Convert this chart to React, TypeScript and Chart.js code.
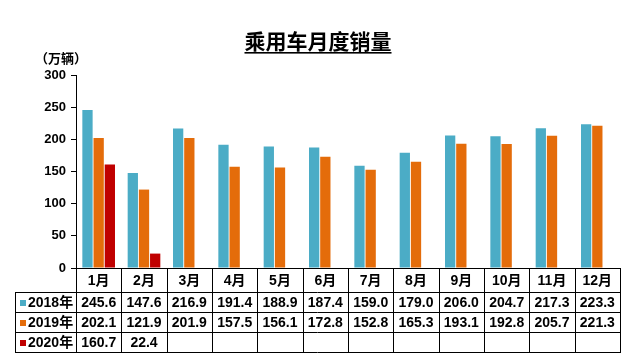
import React, { useEffect, useRef } from 'react';
import { Chart, registerables } from 'chart.js';

Chart.register(...registerables);

const chartTitle = '乘用车月度销量';
const unitLabel = '（万辆）';
const months = ['1月', '2月', '3月', '4月', '5月', '6月', '7月', '8月', '9月', '10月', '11月', '12月'];
const seriesNames = ['2018年', '2019年', '2020年'];
const sales2018 = [245.6, 147.6, 216.9, 191.4, 188.9, 187.4, 159.0, 179.0, 206.0, 204.7, 217.3, 223.3];
const sales2019 = [202.1, 121.9, 201.9, 157.5, 156.1, 172.8, 152.8, 165.3, 193.1, 192.8, 205.7, 221.3];
const sales2020: (number | null)[] = [160.7, 22.4, null, null, null, null, null, null, null, null, null, null];
const yMin = 0;
const yMax = 300;
const yStep = 50;
const seriesColors = ['#4BACC6', '#E46C0A', '#C00000'];

const FONT = '"Liberation Sans", Arial, "Noto Sans CJK SC", sans-serif';
const CJK = '"Noto Sans CJK SC", "Liberation Sans", sans-serif';

const decorPlugin = {
  id: 'decor',
  afterDraw(chart: any) {
    const ctx = chart.ctx as CanvasRenderingContext2D;
    const area = chart.chartArea;
    const xs = chart.scales.x;
    const n = months.length;
    const colW = (area.right - area.left) / n;
    const top = Math.round(area.bottom);
    const rows = [top, top + 24, top + 44, top + 64, top + 84];
    const legendLeft = 15;
    const right = Math.round(area.right);
    const left = Math.round(area.left);
    ctx.save();

    // title
    ctx.fillStyle = '#000';
    ctx.font = `bold 21px ${CJK}`;
    ctx.textAlign = 'center';
    ctx.textBaseline = 'middle';
    const tx = 318;
    ctx.fillText(chartTitle, tx, 41);
    const tw = ctx.measureText(chartTitle).width;
    ctx.fillRect(tx - tw / 2, 52, tw, 1.6);

    // unit label
    ctx.font = `bold 13px ${CJK}`;
    ctx.textAlign = 'left';
    ctx.fillText(unitLabel, 35, 58);

    // table lines
    ctx.strokeStyle = '#000';
    ctx.lineWidth = 1;
    ctx.beginPath();
    ctx.moveTo(left, rows[0] + 0.5);
    ctx.lineTo(right, rows[0] + 0.5);
    for (let r = 1; r < rows.length; r++) {
      ctx.moveTo(legendLeft, rows[r] + 0.5);
      ctx.lineTo(right, rows[r] + 0.5);
    }
    ctx.moveTo(legendLeft + 0.5, rows[1]);
    ctx.lineTo(legendLeft + 0.5, rows[4] + 1);
    for (let i = 0; i <= n; i++) {
      const px = Math.round(left + i * colW) + 0.5;
      ctx.moveTo(px, rows[0]);
      ctx.lineTo(px, rows[4] + 1);
    }
    ctx.stroke();

    // header labels
    ctx.textAlign = 'center';
    ctx.textBaseline = 'middle';
    ctx.font = `bold 14px ${FONT}`;
    for (let i = 0; i < n; i++) {
      const cx = xs.getPixelForValue(i);
      ctx.fillText(months[i], cx, (rows[0] + rows[1]) / 2 + 1);
    }
    const all = [sales2018, sales2019, sales2020];
    for (let s = 0; s < all.length; s++) {
      const cy = (rows[s + 1] + rows[s + 2]) / 2 + 1;
      ctx.fillStyle = seriesColors[s];
      ctx.fillRect(20, cy - 3, 6, 6);
      ctx.fillStyle = '#000';
      ctx.textAlign = 'left';
      ctx.font = `bold 14px ${FONT}`;
      ctx.fillText(seriesNames[s], 28, cy);
      ctx.textAlign = 'center';
      for (let i = 0; i < n; i++) {
        const v = all[s][i];
        if (v === null || v === undefined) continue;
        ctx.fillText(v.toFixed(1), xs.getPixelForValue(i), cy);
      }
    }
    ctx.restore();
  },
};

export default function App() {
  const ref = useRef<HTMLCanvasElement>(null);
  useEffect(() => {
    if (!ref.current) return;
    const chart = new Chart(ref.current, {
      type: 'bar',
      data: {
        labels: months,
        datasets: [
          { label: seriesNames[0], data: sales2018, backgroundColor: seriesColors[0] },
          { label: seriesNames[1], data: sales2019, backgroundColor: seriesColors[1] },
          { label: seriesNames[2], data: sales2020, backgroundColor: seriesColors[2] },
        ],
      },
      options: {
        responsive: false,
        animation: false,
        devicePixelRatio: 1,
        layout: { padding: { left: 0, right: 12, top: 75, bottom: 0 } },
        datasets: { bar: { categoryPercentage: 0.74, barPercentage: 0.92 } },
        plugins: {
          legend: { display: false },
          tooltip: { enabled: false },
          title: { display: false },
        },
        scales: {
          x: {
            ticks: { display: false },
            grid: { display: false },
            border: { display: false },
            afterFit: (scale: any) => {
              scale.height = 94;
            },
          },
          y: {
            min: yMin,
            max: yMax,
            ticks: {
              stepSize: yStep,
              color: '#000',
              padding: 5,
              font: { family: FONT, size: 13, weight: 'bold' },
            },
            grid: {
              display: true,
              drawOnChartArea: false,
              drawTicks: true,
              tickLength: 5,
              color: '#000',
            },
            border: { display: true, color: '#000', width: 1 },
            afterFit: (scale: any) => {
              scale.width = 76;
            },
          },
        },
      },
      plugins: [decorPlugin],
    } as any);
    return () => chart.destroy();
  }, []);
  return (
    <div style={{ position: 'absolute', left: 0, top: 0, width: 632, height: 362, background: '#fff' }}>
      <canvas ref={ref} width={632} height={362} style={{ width: 632, height: 362, display: 'block' }} />
    </div>
  );
}
